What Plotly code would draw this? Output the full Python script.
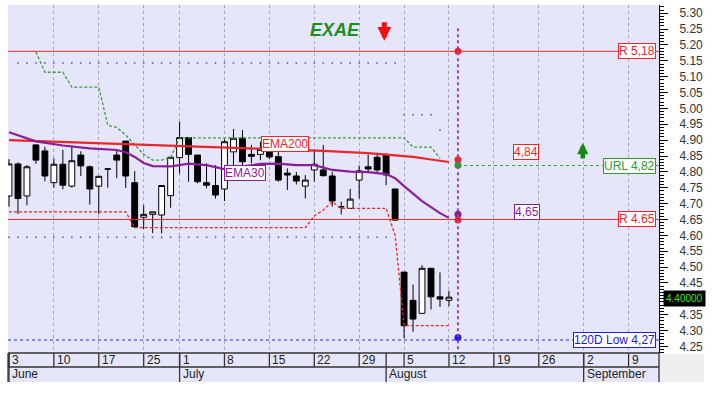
import pandas as pd
import plotly.graph_objects as go

# ---------------- data ----------------
# trading calendar shown on the chart (24 June absent from the feed)
trade_days = pd.bdate_range("2019-06-03", "2019-09-13").drop(pd.Timestamp("2019-06-24"))

opens = [4.724, 4.825, 4.724, 4.885, 4.866, 4.766, 4.824, 4.755, 4.853, 4.816,
         4.755, 4.809, 4.853, 4.897, 4.766, 4.657, 4.666, 4.664, 4.725, 4.845,
         4.908, 4.853, 4.766, 4.757, 4.746, 4.863, 4.906, 4.855, 4.855, 4.875,
         4.848, 4.796, 4.787, 4.755, 4.806, 4.806, 4.787, 4.690, 4.685, 4.774,
         4.816, 4.846, 4.855, 4.746, 4.484, 4.395, 4.354, 4.496, 4.406, 4.395]
highs = [4.840, 4.830, 4.822, 4.887, 4.879, 4.843, 4.869, 4.882, 4.865, 4.820,
         4.786, 4.810, 4.866, 4.897, 4.803, 4.695, 4.674, 4.757, 4.846, 4.958,
         4.908, 4.853, 4.827, 4.821, 4.903, 4.935, 4.932, 4.885, 4.895, 4.890,
         4.863, 4.811, 4.800, 4.790, 4.871, 4.885, 4.800, 4.706, 4.746, 4.820,
         4.855, 4.860, 4.858, 4.746, 4.484, 4.445, 4.506, 4.496, 4.483, 4.425]
lows = [4.690, 4.667, 4.695, 4.825, 4.770, 4.750, 4.745, 4.750, 4.787, 4.697,
        4.666, 4.750, 4.780, 4.749, 4.624, 4.620, 4.607, 4.606, 4.687, 4.795,
        4.769, 4.764, 4.748, 4.716, 4.708, 4.816, 4.821, 4.827, 4.837, 4.840,
        4.769, 4.743, 4.760, 4.716, 4.769, 4.785, 4.690, 4.666, 4.685, 4.716,
        4.800, 4.800, 4.758, 4.645, 4.275, 4.296, 4.354, 4.366, 4.374, 4.377]
closes = [4.825, 4.716, 4.816, 4.837, 4.787, 4.824, 4.758, 4.835, 4.819, 4.746,
          4.786, 4.809, 4.837, 4.787, 4.627, 4.666, 4.674, 4.757, 4.846, 4.908,
          4.855, 4.769, 4.758, 4.727, 4.895, 4.906, 4.832, 4.849, 4.871, 4.847,
          4.774, 4.790, 4.771, 4.774, 4.824, 4.788, 4.708, 4.690, 4.714, 4.803,
          4.809, 4.806, 4.790, 4.648, 4.315, 4.336, 4.496, 4.406, 4.399, 4.405]

ema200_pos = [0, 5, 10, 15, 20, 25, 30, 35, 40, 43, 45, 47, 49]
ema200_val = [4.900, 4.895, 4.891, 4.885, 4.880, 4.877, 4.872, 4.866, 4.859, 4.853, 4.847, 4.839, 4.831]

ema30_pos = [0, 3, 6, 9, 12, 13, 14, 15, 16, 18, 20, 22, 24, 26, 28, 30, 32, 34, 36, 38,
             40, 42, 43, 44, 45, 46, 47, 48, 49]
ema30_val = [4.925, 4.896, 4.883, 4.874, 4.869, 4.862, 4.847, 4.828, 4.818, 4.817, 4.826,
             4.821, 4.809, 4.818, 4.825, 4.826, 4.821, 4.821, 4.806, 4.801, 4.799, 4.793,
             4.780, 4.755, 4.730, 4.708, 4.689, 4.670, 4.655]

stop_up_pos = [3, 4, 6, 7, 10, 11, 12, 13, 14, 15, 16, 17, 18, 19, 44, 45, 47, 48]
stop_up_val = [5.178, 5.114, 5.114, 5.067, 5.067, 4.947, 4.940, 4.916, 4.885, 4.855,
               4.837, 4.837, 4.845, 4.907, 4.907, 4.878, 4.878, 4.843]

stop_dn_pos = [0, 13, 14, 33, 34, 35, 36, 37, 42, 43, 44, 49]
stop_dn_val = [4.674, 4.674, 4.624, 4.624, 4.661, 4.680, 4.705, 4.685, 4.685, 4.600, 4.315, 4.315]

band_hi = [5.143] * 43 + [4.980] * 4 + [4.932]   # starts at session 1
band_lo = [4.594] * 43                           # starts at session 0

r_high, r_low, url_level, low_120d = 5.18, 4.65, 4.82, 4.27
proj_vals = [5.18, 4.838, 4.821, 4.666, 4.648, 4.278]
proj_cols = ["#E8262B", "#E8262B", "#2E9B2E", "#7A1F8C", "#E8262B", "#1A1AE0"]
last_price = 4.40
price_ticks = [4.25, 4.30, 4.35, 4.40, 4.45, 4.50, 4.55, 4.60, 4.65, 4.70, 4.75, 4.80,
               4.85, 4.90, 4.95, 5.00, 5.05, 5.10, 5.15, 5.20, 5.25, 5.30]

# ---------------- styling ----------------
W, H = 717, 398
ML, MR, MT, MB = 8, 58, 5, 45
PW, PH = W - ML - MR, H - MT - MB
BG = "#E6E6FA"
RED, GREEN, PURPLE, BLUE = "#E8262B", "#2E9B2E", "#8A1E96", "#2020D0"
FONT = "Arial, Liberation Sans, sans-serif"

n = len(closes)
pos = list(range(n))
next_pos = trade_days.get_loc(pd.Timestamp("2019-08-13"))
x_rng = [-0.11, 72.39]
y_rng = [4.229, 5.326]

fig = go.Figure()

fig.add_trace(go.Scatter(x=list(range(0, len(band_lo))), y=band_lo, mode="markers",
                         marker=dict(size=2, color="#7070C8"), hoverinfo="skip"))
fig.add_trace(go.Scatter(x=list(range(1, 1 + len(band_hi))), y=band_hi, mode="markers",
                         marker=dict(size=2, color="#7070C8"), hoverinfo="skip"))
fig.add_trace(go.Scatter(x=stop_up_pos, y=stop_up_val, mode="lines",
                         line=dict(color="#3E9A3E", width=1.3, dash="3px,2px"), hoverinfo="skip"))
fig.add_trace(go.Scatter(x=stop_dn_pos, y=stop_dn_val, mode="lines",
                         line=dict(color="#E8262B", width=1.3, dash="3px,2px"), hoverinfo="skip"))

fig.add_trace(go.Candlestick(
    x=pos, open=opens, high=highs, low=lows, close=closes,
    increasing=dict(line=dict(color="black", width=1), fillcolor="white"),
    decreasing=dict(line=dict(color="black", width=1), fillcolor="black"),
    whiskerwidth=0, hoverinfo="skip"))

fig.add_trace(go.Scatter(x=ema200_pos, y=ema200_val, mode="lines",
                         line=dict(color="#E8262B", width=2.2), hoverinfo="skip"))
fig.add_trace(go.Scatter(x=ema30_pos, y=ema30_val, mode="lines",
                         line=dict(color=PURPLE, width=2.2), hoverinfo="skip"))

shapes = []
# horizontal levels
shapes.append(dict(type="line", xref="x", yref="y", x0=x_rng[0], x1=x_rng[1], y0=r_high, y1=r_high,
                   line=dict(color=RED, width=1)))
shapes.append(dict(type="line", xref="x", yref="y", x0=x_rng[0], x1=x_rng[1], y0=r_low, y1=r_low,
                   line=dict(color=RED, width=1)))
shapes.append(dict(type="line", xref="x", yref="y", x0=next_pos, x1=x_rng[1], y0=url_level, y1=url_level,
                   line=dict(color="#3E9A3E", width=1, dash="3px,3px")))
shapes.append(dict(type="line", xref="x", yref="y", x0=x_rng[0], x1=x_rng[1], y0=low_120d, y1=low_120d,
                   line=dict(color="#3030D8", width=1, dash="3px,3px")))
# projection day marker
shapes.append(dict(type="line", xref="x", yref="y", x0=next_pos, x1=next_pos, y0=5.253, y1=y_rng[0],
                   line=dict(color="#A040B8", width=2, dash="dot")))

fig.add_trace(go.Scatter(x=[next_pos] * len(proj_vals), y=proj_vals, mode="markers",
                         marker=dict(size=7, color=proj_cols), hoverinfo="skip"))

# ---------------- date axis (two rows) ----------------
row1 = -14 / PH
row2 = -29 / PH
shapes.append(dict(type="rect", xref="paper", yref="paper", x0=0, x1=1, y0=row2, y1=0,
                   fillcolor=BG, line=dict(width=0)))
shapes.append(dict(type="rect", xref="paper", yref="paper", x0=1, x1=1 + 45 / PW, y0=row2, y1=-1 / PH,
                   fillcolor="#EFEFEF", line=dict(width=0)))
for yy in (0, row1):
    shapes.append(dict(type="line", xref="paper", yref="paper", x0=0, x1=1, y0=yy, y1=yy,
                       line=dict(color="#333333", width=1.3)))
for xx in (0, 1):
    shapes.append(dict(type="line", xref="paper", yref="paper", x0=xx, x1=xx, y0=0, y1=row2,
                       line=dict(color="#333333", width=1.3)))

week_start = []
month_start = []
for i, d in enumerate(trade_days):
    if i == 0 or d.isocalendar()[1] != trade_days[i - 1].isocalendar()[1]:
        week_start.append(i)
    if i == 0 or d.month != trade_days[i - 1].month:
        month_start.append(i)
week_start = [i for i in week_start if i <= x_rng[1]]
month_start = [i for i in month_start if i <= x_rng[1]]

annotations = []
for i in week_start:
    shapes.append(dict(type="line", xref="x", yref="paper", x0=i, x1=i, y0=0, y1=row1,
                       line=dict(color="#333333", width=1.3)))
    annotations.append(dict(xref="x", yref="paper", x=i, y=row1 / 2, xanchor="left", yanchor="middle",
                            xshift=1, text=str(trade_days[i].day), showarrow=False,
                            font=dict(size=12, color="#222222")))
for i in month_start:
    shapes.append(dict(type="line", xref="x", yref="paper", x0=i, x1=i, y0=0, y1=row2,
                       line=dict(color="#333333", width=1.3)))
    annotations.append(dict(xref="x", yref="paper", x=i, y=(row1 + row2) / 2, xanchor="left",
                            yanchor="middle", xshift=1, text=trade_days[i].strftime("%B"),
                            showarrow=False, font=dict(size=12, color="#222222")))

# ---------------- labels ----------------
def right_tag(y, text, color):
    return dict(xref="paper", x=1, xanchor="right", xshift=-3, yref="y", y=y, yanchor="middle",
                text=text, showarrow=False, font=dict(size=12, color=color),
                bgcolor="white", bordercolor=color, borderwidth=1, borderpad=0)

annotations += [
    right_tag(r_high, "R 5,18", RED),
    right_tag(r_low, "R 4.65", RED),
    right_tag(url_level, "URL 4,82", "#2E9B2E"),
    right_tag(low_120d, "120D Low 4,27", BLUE),
    dict(xref="x", yref="y", x=57.6, y=4.862, text="4,84", showarrow=False,
         font=dict(size=12, color=RED), bgcolor="white", bordercolor=RED, borderwidth=1, borderpad=0),
    dict(xref="x", yref="y", x=57.7, y=4.673, text="4,65", showarrow=False,
         font=dict(size=12, color=PURPLE), bgcolor="white", bordercolor=PURPLE, borderwidth=1, borderpad=0),
    dict(xref="x", yref="y", x=30.7, y=4.889, text="EMA200", showarrow=False,
         font=dict(size=12, color=RED), bgcolor="white", bordercolor=RED, borderwidth=1, borderpad=0),
    dict(xref="x", yref="y", x=26.3, y=4.798, text="EMA30", showarrow=False,
         font=dict(size=12, color=PURPLE), bgcolor="white", bordercolor=PURPLE, borderwidth=1, borderpad=0),
    dict(xref="x", yref="y", x=36.3, y=5.247, text="<b><i>EXAE</i></b>", showarrow=False,
         font=dict(size=18, color="#1E8C1E")),
    dict(xref="x", yref="y", x=41.8, y=5.213, ax=0, ay=-20, text="", showarrow=True,
         arrowhead=2, arrowsize=0.55, arrowwidth=5, arrowcolor="#F01010", standoff=0, startstandoff=0),
    dict(xref="x", yref="y", x=63.9, y=4.891, ax=0, ay=17, text="", showarrow=True,
         arrowhead=2, arrowsize=0.5, arrowwidth=4.5, arrowcolor="#108A10", standoff=0, startstandoff=0),
    dict(xref="paper", x=1, xanchor="left", xshift=4, yref="y", y=last_price, yanchor="middle",
         text="%.5f" % last_price, showarrow=False, font=dict(size=10, color="#3CE03C"),
         bgcolor="black", borderpad=2),
]

fig.update_layout(
    width=W, height=H,
    margin=dict(l=ML, r=MR, t=MT, b=MB),
    paper_bgcolor="white", plot_bgcolor=BG,
    font=dict(family=FONT, size=12, color="#333333"),
    showlegend=False,
    boxgap=0.35, boxgroupgap=0,
    shapes=shapes, annotations=annotations,
    xaxis=dict(range=x_rng, rangeslider=dict(visible=False), showticklabels=False, ticks="",
               tickvals=[i for i in week_start if i > 0], showgrid=True, gridcolor="#A6A6B8",
               griddash="dot", gridwidth=1, zeroline=False, showline=False),
    yaxis=dict(side="right", range=y_rng,
               tickvals=[t for t in price_ticks if abs(t - last_price) > 1e-9],
               ticktext=["%.2f" % t for t in price_ticks if abs(t - last_price) > 1e-9],
               ticks="outside", ticklen=8, tickcolor="black", tickwidth=1,
               showline=True, linecolor="black", linewidth=1, showgrid=False, zeroline=False,
               ticklabelstandoff=9, tickfont=dict(size=12, color="#333333"),
               minor=dict(dtick=0.01, tick0=4.25, ticks="outside", ticklen=4, tickcolor="black",
                          showgrid=False)),
)

fig.write_html("out.html", config={"displayModeBar": False},
               post_script="document.body.style.margin='0px';")
